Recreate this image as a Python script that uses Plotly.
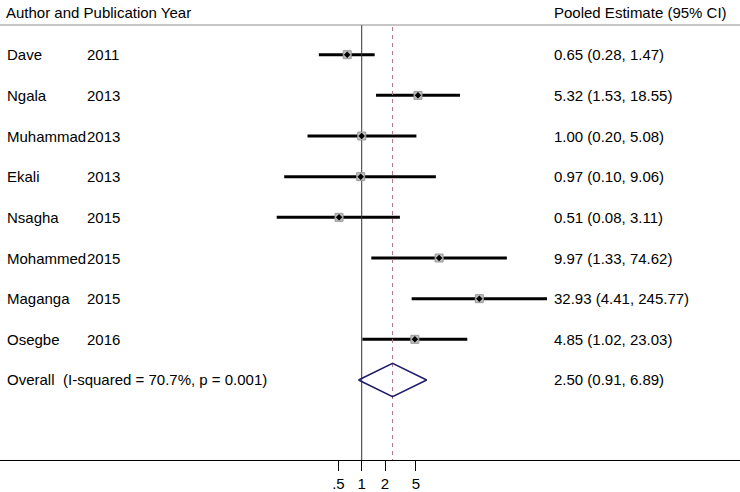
import plotly.graph_objects as go

# ---- data ----
authors = ["Dave", "Ngala", "Muhammad", "Ekali", "Nsagha", "Mohammed", "Maganga", "Osegbe"]
years = ["2011", "2013", "2013", "2013", "2015", "2015", "2015", "2016"]
estimates = [0.65, 5.32, 1.00, 0.97, 0.51, 9.97, 32.93, 4.85]
lower = [0.28, 1.53, 0.20, 0.10, 0.08, 1.33, 4.41, 1.02]
upper = [1.47, 18.55, 5.08, 9.06, 3.11, 74.62, 245.77, 23.03]
overall_label = "Overall"
overall_stats = "(I-squared = 70.7%, p = 0.001)"
overall_est = 2.50
overall_low = 0.91
overall_high = 6.89
tick_vals = [0.5, 1, 2, 5]
tick_text = [".5", "1", "2", "5"]
header_left = "Author and Publication Year"
header_right = "Pooled Estimate (95% CI)"

W, H = 740, 492
FONT = "Liberation Sans, Arial, sans-serif"
rows = list(range(len(authors)))
yvals = [-i for i in rows]
y_overall = -len(authors)

fig = go.Figure()

# CI lines
lx, ly = [], []
for lo, hi, y in zip(lower, upper, yvals):
    lx += [lo, hi, None]
    ly += [y, y, None]
fig.add_trace(go.Scatter(x=lx, y=ly, mode="lines",
                         line=dict(color="black", width=3), hoverinfo="skip"))

# vertical null line at 1
fig.add_trace(go.Scatter(x=[1, 1], y=[0.73, -9.968], mode="lines",
                         line=dict(color="#333333", width=1), hoverinfo="skip"))
# dashed overall line
fig.add_trace(go.Scatter(x=[overall_est, overall_est], y=[0.68, -9.968], mode="lines",
                         line=dict(color="#b0708a", width=1, dash="4px,4px"), hoverinfo="skip"))

# weight squares
fig.add_trace(go.Scatter(x=estimates, y=yvals, mode="markers",
                         marker=dict(symbol="square", size=8, color="#bdbdbd",
                                     line=dict(color="#9a9a9a", width=1)),
                         hoverinfo="skip"))
# point estimate dots
fig.add_trace(go.Scatter(x=estimates, y=yvals, mode="markers",
                         marker=dict(symbol="diamond", size=5, color="black"),
                         hoverinfo="skip"))

# overall diamond
h = 0.41
fig.add_trace(go.Scatter(
    x=[overall_low, overall_est, overall_high, overall_est, overall_low],
    y=[y_overall, y_overall + h, y_overall, y_overall - h, y_overall],
    mode="lines", line=dict(color="#1c1c6b", width=1.5), hoverinfo="skip"))

def px(xp):
    return xp / W

ann = []
def add_text(text, xpix, y, anchor="left"):
    ann.append(dict(text=text, x=px(xpix), xref="paper", y=y, yref="y",
                    xanchor=anchor, yanchor="middle", showarrow=False,
                    font=dict(family=FONT, size=15, color="black")))

add_text(header_left, 4, 1.05)
add_text(header_right, 552, 1.05)
for a, yr, e, lo, hi, y in zip(authors, years, estimates, lower, upper, yvals):
    add_text(a, 5, y)
    add_text(yr, 85, y)
    add_text(f"{e:.2f} ({lo:.2f}, {hi:.2f})", 552, y)
add_text(overall_label, 5, y_overall)
add_text(overall_stats, 61, y_overall)
add_text(f"{overall_est:.2f} ({overall_low:.2f}, {overall_high:.2f})", 552, y_overall)

fig.update_layout(
    width=W, height=H,
    margin=dict(l=0, r=0, t=0, b=32),
    paper_bgcolor="white", plot_bgcolor="white",
    showlegend=False,
    annotations=ann,
    shapes=[dict(type="line", xref="paper", yref="y", x0=0, x1=1, y0=0.73, y1=0.73,
                 line=dict(color="#8c8c8c", width=1))],
    xaxis=dict(type="log", range=[-4.667, 4.881], showgrid=False, zeroline=False,
               showline=True, linecolor="black", linewidth=1,
               ticks="outside", ticklen=10, tickcolor="black", tickwidth=1,
               tickvals=tick_vals, ticktext=tick_text,
               tickfont=dict(family=FONT, size=15, color="black")),
    yaxis=dict(range=[-9.968, 1.345], visible=False, showgrid=False, zeroline=False),
)

fig.write_html("out.html", config={"displayModeBar": False},
               post_script="document.body.style.margin='0';document.body.style.overflow='hidden';")
